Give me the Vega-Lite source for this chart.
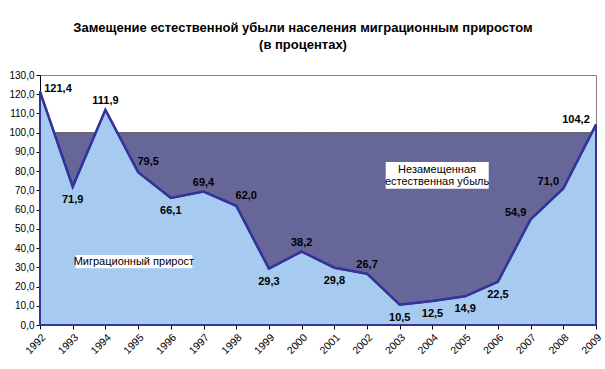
{
  "$schema": "https://vega.github.io/schema/vega-lite/v6.json",
  "width": 556,
  "height": 250,
  "autosize": "none",
  "padding": {"left": 40, "top": 75, "right": 9, "bottom": 44},
  "background": "white",
  "title": {
    "text": ["Замещение естественной убыли населения миграционным приростом", "(в процентах)"],
    "font": "Liberation Sans",
    "fontSize": 13,
    "fontWeight": "bold",
    "color": "black",
    "lineHeight": 17,
    "anchor": "middle",
    "dx": -15,
    "offset": 18
  },
  "config": {
    "view": {"stroke": "#808080", "strokeWidth": 1},
    "font": "Liberation Sans"
  },
  "data": {
    "values": [
      {"year": 1992, "value": 121.4},
      {"year": 1993, "value": 71.9},
      {"year": 1994, "value": 111.9},
      {"year": 1995, "value": 79.5},
      {"year": 1996, "value": 66.1},
      {"year": 1997, "value": 69.4},
      {"year": 1998, "value": 62.0},
      {"year": 1999, "value": 29.3},
      {"year": 2000, "value": 38.2},
      {"year": 2001, "value": 29.8},
      {"year": 2002, "value": 26.7},
      {"year": 2003, "value": 10.5},
      {"year": 2004, "value": 12.5},
      {"year": 2005, "value": 14.9},
      {"year": 2006, "value": 22.5},
      {"year": 2007, "value": 54.9},
      {"year": 2008, "value": 71.0},
      {"year": 2009, "value": 104.2}
    ]
  },
  "encoding": {
    "x": {
      "field": "year",
      "type": "quantitative",
      "scale": {"domain": [1992, 2009], "nice": false, "zero": false},
      "axis": {
        "title": null,
        "values": [1992,1993,1994,1995,1996,1997,1998,1999,2000,2001,2002,2003,2004,2005,2006,2007,2008,2009],
        "format": "d",
        "labelAngle": -45,
        "labelFontSize": 10.5,
        "labelColor": "black",
        "labelFont": "Liberation Sans",
        "labelPadding": 3,
        "domainColor": "black",
        "tickColor": "black",
        "tickSize": 4,
        "grid": false,
        "labelOverlap": false
      }
    },
    "y": {
      "field": "value",
      "type": "quantitative",
      "scale": {"domain": [0, 130], "nice": false},
      "axis": {
        "title": null,
        "values": [0,10,20,30,40,50,60,70,80,90,100,110,120,130],
        "labelExpr": "replace(format(datum.value, '.1f'), '.', ',')",
        "labelFontSize": 10,
        "labelColor": "black",
        "labelFont": "Liberation Sans",
        "labelPadding": 2,
        "domainColor": "black",
        "tickColor": "black",
        "tickSize": 4,
        "grid": false,
        "labelOverlap": false
      }
    }
  },
  "layer": [
    {
      "mark": {"type": "area", "color": "#666699", "stroke": "#505050", "strokeWidth": 1},
      "encoding": {"y2": {"datum": 100}}
    },
    {
      "mark": {"type": "area", "color": "#A6CAF0", "stroke": "#333399", "strokeWidth": 2},
      "encoding": {"y2": {"datum": 0}}
    },
    {
      "mark": {"type": "line", "color": "#333399", "strokeWidth": 2.5},
      "encoding": {}
    },
    {
      "transform": [{"filter": "datum.year == 1992"}],
      "mark": {"type": "rect", "color": "white"},
      "encoding": {
        "x": {"datum": 1993.09},
        "x2": {"datum": 1996.66},
        "y": {"datum": 36.4},
        "y2": {"datum": 29.5}
      }
    },
    {
      "transform": [{"filter": "datum.year == 1992"}],
      "mark": {"type": "text", "fontSize": 11, "color": "black", "align": "center", "baseline": "middle"},
      "encoding": {
        "x": {"datum": 1994.87},
        "y": {"datum": 32.9},
        "text": {"value": "Миграционный прирост"}
      }
    },
    {
      "transform": [{"filter": "datum.year == 1992"}],
      "mark": {"type": "rect", "color": "white"},
      "encoding": {
        "x": {"datum": 2002.57},
        "x2": {"datum": 2005.72},
        "y": {"datum": 84.76},
        "y2": {"datum": 70.88}
      }
    },
    {
      "transform": [{"filter": "datum.year == 1992"}],
      "mark": {"type": "text", "fontSize": 11, "color": "black", "align": "center", "baseline": "middle", "lineHeight": 12},
      "encoding": {
        "x": {"datum": 2004.14},
        "y": {"datum": 80.4},
        "text": {"value": ["Незамещенная", "естественная убыль"]}
      }
    },
    {
      "transform": [
        {"filter": {"field": "year", "oneOf": [1993, 1996, 1999, 2001, 2003, 2004, 2005, 2006]}},
        {"calculate": "replace(format(datum.value, '.1f'), '.', ',')", "as": "label"}
      ],
      "mark": {"type": "text", "fontSize": 11, "fontWeight": "bold", "color": "black", "align": "center", "baseline": "middle", "dy": 13},
      "encoding": {"text": {"field": "label"}}
    },
    {
      "transform": [
        {"filter": {"field": "year", "oneOf": [1994, 1997, 2000, 2002]}},
        {"calculate": "replace(format(datum.value, '.1f'), '.', ',')", "as": "label"}
      ],
      "mark": {"type": "text", "fontSize": 11, "fontWeight": "bold", "color": "black", "align": "center", "baseline": "middle", "dy": -9},
      "encoding": {"text": {"field": "label"}}
    },
    {
      "transform": [
        {"filter": {"field": "year", "oneOf": [1992]}},
        {"calculate": "replace(format(datum.value, '.1f'), '.', ',')", "as": "label"}
      ],
      "mark": {"type": "text", "fontSize": 11, "fontWeight": "bold", "color": "black", "align": "center", "baseline": "middle", "dx": 18, "dy": -3},
      "encoding": {"text": {"field": "label"}}
    },
    {
      "transform": [
        {"filter": {"field": "year", "oneOf": [1995, 1998]}},
        {"calculate": "replace(format(datum.value, '.1f'), '.', ',')", "as": "label"}
      ],
      "mark": {"type": "text", "fontSize": 11, "fontWeight": "bold", "color": "black", "align": "center", "baseline": "middle", "dx": 10, "dy": -10},
      "encoding": {"text": {"field": "label"}}
    },
    {
      "transform": [
        {"filter": {"field": "year", "oneOf": [2007, 2008]}},
        {"calculate": "replace(format(datum.value, '.1f'), '.', ',')", "as": "label"}
      ],
      "mark": {"type": "text", "fontSize": 11, "fontWeight": "bold", "color": "black", "align": "center", "baseline": "middle", "dx": -15, "dy": -6},
      "encoding": {"text": {"field": "label"}}
    },
    {
      "transform": [
        {"filter": {"field": "year", "oneOf": [2009]}},
        {"calculate": "replace(format(datum.value, '.1f'), '.', ',')", "as": "label"}
      ],
      "mark": {"type": "text", "fontSize": 11, "fontWeight": "bold", "color": "black", "align": "center", "baseline": "middle", "dx": -20, "dy": -5},
      "encoding": {"text": {"field": "label"}}
    }
  ]
}
